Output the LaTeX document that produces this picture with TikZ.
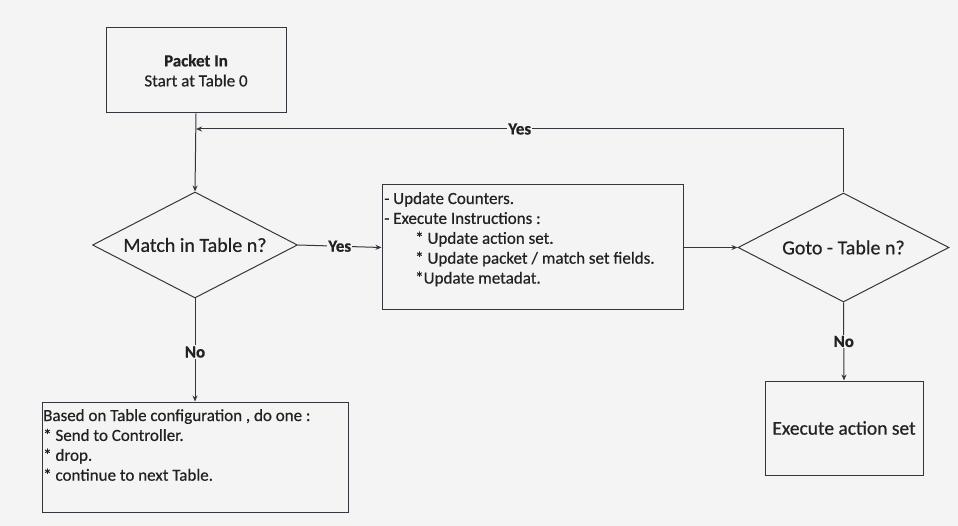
\documentclass[tikz,border=0pt]{standalone}
\usepackage{fontspec}
\setmainfont{Carlito}[FakeBold=0.5]
\usetikzlibrary{shapes.geometric,arrows.meta}
\definecolor{bgc}{HTML}{F4F4F4}
\definecolor{ln}{HTML}{38343E}
\definecolor{tx}{HTML}{222222}
\tikzset{
  box/.style={draw=ln, line width=1pt, rectangle, inner sep=0pt},
  dia/.style={draw=ln, line width=1pt, diamond, aspect=2, inner sep=0pt, text=tx, font=\fontsize{20}{23}\selectfont},
  conn/.style={draw=ln, line width=1pt, -{Stealth[length=6pt,width=5pt]}},
  lab/.style={fill=bgc, inner sep=1pt, text=tx, font=\fontsize{17}{20}\selectfont\bfseries},
  txt/.style={text=tx, inner sep=0pt, align=left, font=\fontsize{17}{19.9}\selectfont},
}
\begin{document}
\begin{tikzpicture}[x=1pt,y=-1pt]
\useasboundingbox (0,0) rectangle (958,526);
\fill[bgc] (0,0) rectangle (958,526);

% Packet In box
\node[box, minimum width=180pt, minimum height=85pt, align=center, text=tx,
      font=\fontsize{17}{20}\selectfont] (pin) at (196,70.5)
      {\textbf{Packet In}\\Start at Table 0};

% decision 1
\node[dia, minimum width=205pt, minimum height=106pt] (d1) at (195,245) {Match in Table n?};

% middle box
\node[box, minimum width=301pt, minimum height=125pt] (mid) at (532.5,247.5) {};
\node[txt, anchor=north west] (midtxt) at (384,192)
 {- Update Counters.\\
  - Execute Instructions :\\
  \hspace*{31pt}* Update action set.\\
  \hspace*{31pt}* Update packet / match set fields.\\
  \hspace*{31pt}*Update metadat.};

% decision 2
\node[dia, minimum width=211pt, minimum height=109pt] (d2) at (843.5,247.5) {Goto - Table n?};

% execute action set
\node[box, minimum width=158pt, minimum height=94pt, text=tx,
      font=\fontsize{19.5}{22}\selectfont] (ex) at (844,428) {Execute action set};

% bottom-left box
\node[box, minimum width=306pt, minimum height=110pt] (bl) at (195,457) {};
\node[txt, anchor=north west] (bltxt) at (43,409)
 {Based on Table configuration , do one :\\
  * Send to Controller.\\
  * drop.\\
  * continue to next Table.};

% connectors
\coordinate (fb) at (196,129);
\draw[conn] (pin.south) -- (d1.north);
\draw[conn] (d2.north) |- node[lab, pos=0.75] (y2) {Yes} (fb);
\draw[conn] (d1.east) -- node[lab, pos=0.5] (y1) {Yes} (mid.west);
\draw[conn] (mid.east) -- (d2.west);
\draw[conn] (d1.south) -- node[lab, pos=0.52] (n1) {No} (bl.north);
\draw[conn] (d2.south) -- node[lab, pos=0.5] (n2) {No} (ex.north);
\end{tikzpicture}
\end{document}
